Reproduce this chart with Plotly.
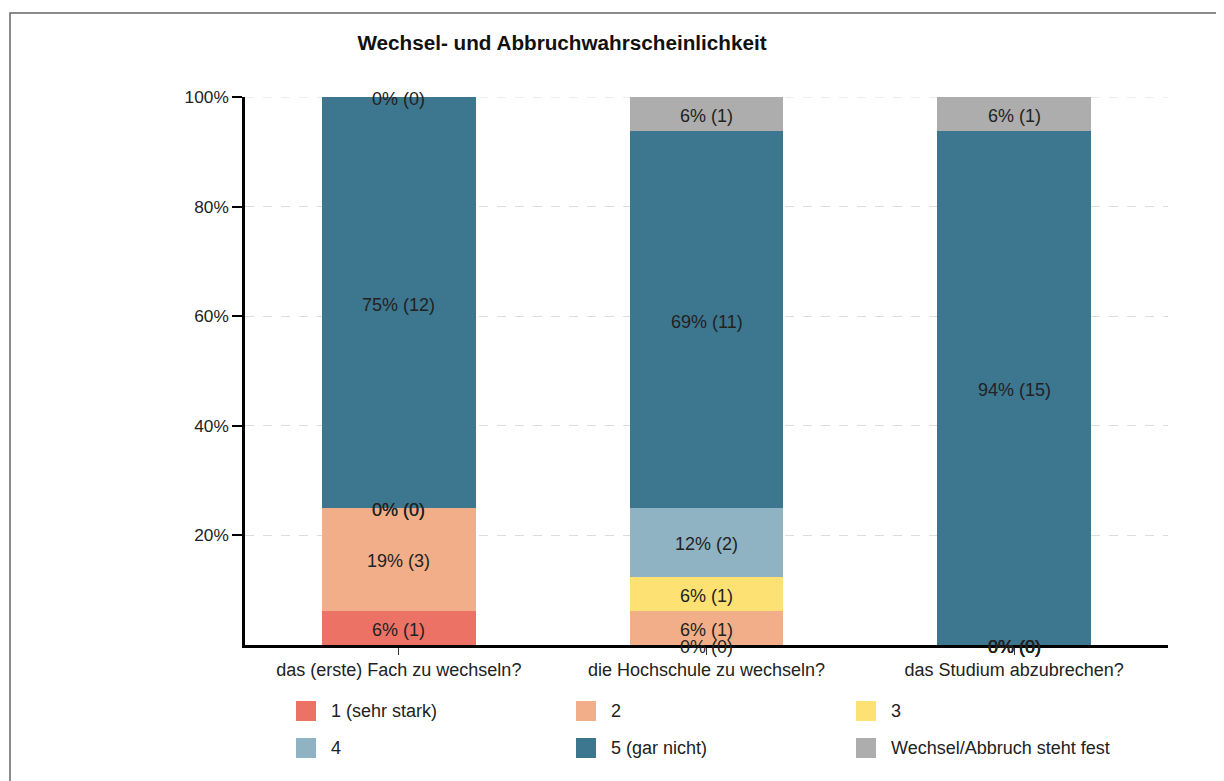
import plotly.graph_objects as go

categories = ["das (erste) Fach zu wechseln?", "die Hochschule zu wechseln?", "das Studium abzubrechen?"]
series_names = ["1 (sehr stark)", "2", "3", "4", "5 (gar nicht)", "Wechsel/Abbruch steht fest"]
series_colors = ["#EC7266", "#F1AE88", "#FDE273", "#90B3C3", "#3D768F", "#ADADAD"]
counts = [
    [1, 0, 0],    # 1 (sehr stark)
    [3, 1, 0],    # 2
    [0, 1, 0],    # 3
    [0, 2, 0],    # 4
    [12, 11, 15], # 5 (gar nicht)
    [0, 1, 1],    # Wechsel/Abbruch steht fest
]
totals = [sum(c[i] for c in counts) for i in range(len(categories))]
y_ticks = [20, 40, 60, 80, 100]
y_tick_text = ["20%", "40%", "60%", "80%", "100%"]

W, H = 1224, 781
OFF = 8  # page body margin offset
ML, MR, MT, MB = 245 - OFF, 56 + OFF, 97 - OFF, 136 + OFF
PW, PH = W - ML - MR, H - MT - MB
FONT = "Liberation Sans, Arial, sans-serif"

def px_x(px):
    return (px - OFF - ML) / PW

def px_y(py):
    return (H - MB - (py - OFF)) / PH

fig = go.Figure()

annotations = []
base = [0.0] * len(categories)
for name, color, cnt in zip(series_names, series_colors, counts):
    pct = [c / t * 100 for c, t in zip(cnt, totals)]
    fig.add_trace(go.Bar(
        x=categories, y=pct, name=name, marker=dict(color=color, line=dict(width=0)),
        width=0.5, showlegend=False, hoverinfo="skip",
    ))
    for i, (p, c) in enumerate(zip(pct, cnt)):
        annotations.append(dict(
            xref="x", yref="y", x=categories[i], y=base[i] + p / 2,
            text=f"{round(p)}% ({c})", showarrow=False, yshift=-2,
            xanchor="center", yanchor="middle",
            font=dict(family=FONT, size=18, color="#222222"),
        ))
        base[i] += p

shapes = []
# outer frame
shapes.append(dict(type="rect", xref="paper", yref="paper",
                   x0=px_x(10), x1=px_x(1260), y0=px_y(820), y1=px_y(13),
                   line=dict(color="#666666", width=1.5), fillcolor="rgba(0,0,0,0)", layer="below"))
# gridline at top (100%)
shapes.append(dict(type="line", xref="paper", yref="y", x0=0, x1=1, y0=100, y1=100,
                   line=dict(color="#DDDDDD", width=1, dash="dash"), layer="below"))

# custom legend (3 columns x 2 rows)
col_x = [296, 576, 856]
row_y = [711, 748]
for k, (name, color) in enumerate(zip(series_names, series_colors)):
    r, c = divmod(k, 3)
    cx, cy = col_x[c], row_y[r]
    shapes.append(dict(type="rect", xref="paper", yref="paper",
                       x0=px_x(cx), x1=px_x(cx + 20), y0=px_y(cy + 10), y1=px_y(cy - 10),
                       line=dict(width=0), fillcolor=color))
    annotations.append(dict(xref="paper", yref="paper", x=px_x(cx + 33), y=px_y(cy),
                            text=name, showarrow=False, xanchor="left", yanchor="middle",
                            font=dict(family=FONT, size=18, color="#222222")))

fig.update_layout(
    width=W, height=H,
    margin=dict(l=ML, r=MR, t=MT, b=MB, autoexpand=False),
    barmode="stack", bargap=0.5,
    paper_bgcolor="white", plot_bgcolor="white",
    title=dict(text="<b>Wechsel- und Abbruchwahrscheinlichkeit</b>", x=(562 - OFF) / W, xanchor="center",
               y=1 - (43 - OFF) / H, yanchor="middle", yref="container",
               font=dict(family=FONT, size=20.7, color="#111111")),
    shapes=shapes, annotations=annotations,
    xaxis=dict(showline=True, linecolor="black", linewidth=2.5, ticks="outside", ticklen=7,
               tickwidth=1, tickcolor="#333333", ticklabelstandoff=0,
               tickfont=dict(family=FONT, size=18, color="#222222"),
               showgrid=False, zeroline=False, fixedrange=True),
    yaxis=dict(range=[0, 100], tickvals=y_ticks, ticktext=y_tick_text, showline=True,
               linecolor="black", linewidth=2.5, ticks="outside", ticklen=10, tickwidth=1.5,
               tickcolor="black", showgrid=True, gridcolor="#DDDDDD", griddash="dash", gridwidth=1,
               zeroline=False,
               tickfont=dict(family=FONT, size=17.3, color="#222222")),
    font=dict(family=FONT),
)

fig.write_html("out.html")
